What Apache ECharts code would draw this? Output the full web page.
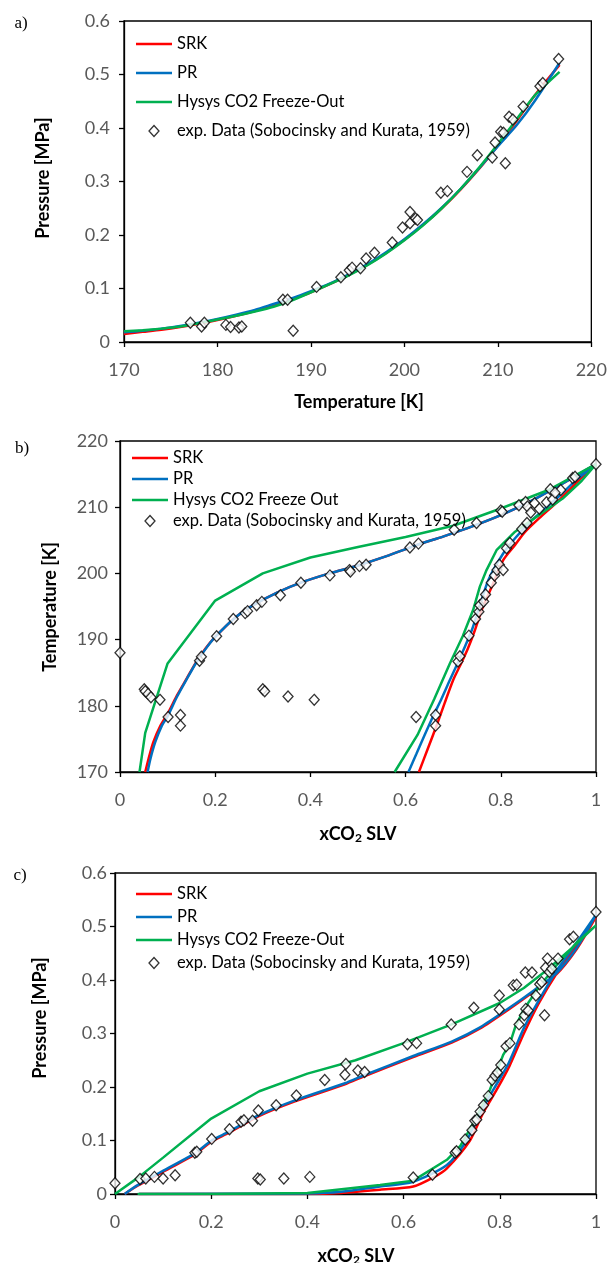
<!DOCTYPE html>
<html><head><meta charset="utf-8">
<script src="https://cdn.jsdelivr.net/npm/echarts@6/dist/echarts.min.js"></script>
<style>html,body{margin:0;padding:0;background:#fff}#c{width:610px;height:1263px}</style>
</head><body><div id="c"></div>
<script>
// ---------- Panel a: Pressure vs Temperature ----------
const aTemps = [170,172,174,176,178,180,182,184,186,188,190,192,194,196,198,200,202,204,206,208,210,212,214,216.6];
const aSRK  = [0.015,0.019,0.023,0.028,0.034,0.041,0.049,0.058,0.068,0.080,0.093,0.108,0.125,0.144,0.166,0.191,0.219,0.250,0.285,0.324,0.367,0.413,0.462,0.518];
const aPR   = [0.018,0.021,0.025,0.030,0.036,0.043,0.051,0.060,0.071,0.082,0.095,0.109,0.126,0.145,0.167,0.192,0.220,0.251,0.286,0.325,0.366,0.405,0.452,0.522];
const aHysys= [0.020,0.022,0.025,0.029,0.035,0.042,0.049,0.057,0.066,0.078,0.093,0.108,0.124,0.143,0.165,0.190,0.218,0.250,0.286,0.326,0.370,0.416,0.462,0.505];
const aExpT = [177.1,178.3,178.6,180.9,181.4,182.3,182.6,187.0,187.5,188.1,190.6,193.2,194.1,194.4,195.3,195.9,196.8,198.7,199.8,200.6,200.6,201.2,201.4,203.9,204.6,206.7,207.8,209.4,209.7,210.3,210.6,210.8,211.2,211.6,212.7,214.5,214.8,216.5];
const aExpP = [0.036,0.029,0.036,0.032,0.028,0.027,0.029,0.079,0.079,0.021,0.103,0.121,0.134,0.139,0.138,0.156,0.167,0.186,0.214,0.222,0.243,0.231,0.228,0.279,0.282,0.318,0.349,0.345,0.373,0.393,0.391,0.334,0.421,0.416,0.440,0.478,0.484,0.529];

// ---------- Panel b: Temperature vs xCO2 (pairs [x, T]) ----------
const bSRK = [[0.053,170],[0.060,172],[0.070,174.5],[0.085,177],[0.100,178.8],[0.120,181.6],[0.140,184.1],[0.160,186.6],[0.180,188.7],[0.200,190.4],[0.240,193.2],[0.280,195.2],[0.330,197.1],[0.380,198.6],[0.440,200.0],[0.500,201.2],[0.560,202.6],[0.620,204.2],[0.680,205.6],[0.740,207.1],[0.800,208.8],[0.860,210.8],[0.920,213.2],[0.960,214.8],[1.000,216.5],
  [0.960,213.8],[0.920,210.9],[0.880,208.3],[0.850,206.2],[0.830,204.3],[0.805,202.0],[0.781,198.0],[0.760,194.5],[0.745,191.3],[0.730,188.5],[0.714,186.0],[0.700,183.9],[0.682,180.4],[0.664,176.8],[0.646,173.4],[0.628,170]];
const bPR = [[0.058,170],[0.064,172],[0.074,174.5],[0.088,177],[0.100,178.4],[0.120,181.4],[0.140,184.0],[0.160,186.5],[0.180,188.6],[0.200,190.4],[0.240,193.2],[0.280,195.2],[0.330,197.1],[0.380,198.6],[0.440,200.0],[0.500,201.2],[0.560,202.6],[0.620,204.2],[0.680,205.6],[0.740,207.1],[0.800,208.8],[0.860,210.8],[0.920,213.2],[0.960,214.8],[1.000,216.5],
  [0.960,214.2],[0.920,211.5],[0.880,209.0],[0.855,207.3],[0.830,205.3],[0.805,203.0],[0.774,199.0],[0.753,194.5],[0.740,191.6],[0.725,189.0],[0.711,186.7],[0.693,183.9],[0.675,181.0],[0.657,178.3],[0.640,175.6],[0.623,172.8],[0.606,170]];
const bHysys = [[0.041,170],[0.053,175.9],[0.100,186.4],[0.200,195.9],[0.300,200.0],[0.400,202.4],[0.500,204.0],[0.600,205.5],[0.700,207.2],[0.800,209.8],[0.900,212.6],[1.000,216.5],
  [0.970,214.0],[0.930,211.3],[0.880,208.8],[0.830,206.3],[0.791,203.5],[0.770,200.5],[0.756,198.0],[0.742,194.5],[0.720,190.5],[0.693,186.4],[0.660,181.0],[0.625,175.6],[0.577,170]];
const bExp = [[0,188.0],[0.051,182.5],[0.053,182.2],[0.059,181.8],[0.065,181.3],[0.084,180.9],[0.101,178.3],[0.127,178.6],[0.127,177.0],[0.167,186.8],[0.171,187.4],[0.203,190.5],[0.238,193.1],[0.263,194.0],[0.268,194.3],[0.287,195.2],[0.298,195.7],[0.337,196.7],[0.380,198.6],[0.441,199.7],[0.482,200.5],[0.484,200.3],[0.503,201.1],[0.517,201.3],[0.609,203.9],[0.627,204.5],[0.702,206.6],[0.749,207.6],[0.800,209.5],[0.803,209.3],[0.838,210.3],[0.852,210.8],[0.856,210.1],[0.871,210.6],[0.904,212.7],[0.926,212.6],[0.951,214.4],[0.956,214.6],[1.0,216.5],
  [0.300,182.5],[0.304,182.2],[0.353,181.4],[0.408,180.9],[0.622,178.3],[0.663,178.6],[0.663,177.0],
  [0.710,186.7],[0.714,187.5],[0.733,190.6],[0.747,193.1],[0.754,194.2],[0.756,195.2],[0.764,195.75],[0.768,196.8],[0.780,198.6],[0.787,199.7],[0.792,200.5],[0.797,201.3],[0.805,200.5],[0.812,203.8],[0.819,204.6],[0.844,206.7],[0.855,207.6],[0.863,209.2],[0.881,209.75],[0.896,210.75],[0.909,211.15],[0.914,212.2]];

// ---------- Panel c: Pressure vs xCO2 (pairs [x, P]) ----------
const cPR = [[0.02,0],[0.048,0.017],[0.097,0.042],[0.166,0.076],[0.201,0.100],[0.236,0.116],[0.298,0.147],[0.374,0.175],[0.478,0.207],[0.518,0.222],[0.620,0.258],[0.700,0.285],[0.760,0.312],[0.820,0.348],[0.870,0.380],[0.917,0.412],[0.960,0.460],[1.0,0.522],
  [0.960,0.470],[0.920,0.420],[0.880,0.360],[0.850,0.310],[0.818,0.244],[0.786,0.194],[0.759,0.151],[0.731,0.100],[0.690,0.054],[0.620,0.023],[0.551,0.014],[0.470,0.004],[0.400,0.001],[0.050,0]];
const cSRK = [[0.02,0],[0.048,0.016],[0.097,0.040],[0.166,0.074],[0.201,0.098],[0.236,0.114],[0.298,0.145],[0.374,0.173],[0.478,0.205],[0.518,0.220],[0.620,0.256],[0.700,0.283],[0.760,0.310],[0.820,0.346],[0.870,0.378],[0.917,0.410],[0.960,0.458],[1.0,0.518],
  [0.960,0.465],[0.920,0.415],[0.880,0.355],[0.850,0.300],[0.820,0.239],[0.793,0.194],[0.765,0.151],[0.738,0.100],[0.690,0.048],[0.664,0.032],[0.620,0.014],[0.551,0.008],[0.470,0.002],[0.400,0],[0.050,0]];
const cHysys = [[0,0],[0.05,0.032],[0.10,0.068],[0.20,0.141],[0.30,0.192],[0.40,0.225],[0.50,0.250],[0.60,0.282],[0.70,0.317],[0.80,0.357],[0.85,0.385],[0.90,0.420],[0.95,0.460],[1.0,0.502],
  [0.960,0.470],[0.920,0.430],[0.880,0.385],[0.850,0.345],[0.832,0.312],[0.821,0.281],[0.807,0.260],[0.779,0.194],[0.746,0.134],[0.718,0.090],[0.690,0.064],[0.620,0.025],[0.551,0.017],[0.400,0.002],[0.200,0],[0.047,0]];
const cExp = [[0,0.020],[0.052,0.028],[0.064,0.029],[0.082,0.032],[0.100,0.029],[0.125,0.035],[0.166,0.077],[0.170,0.079],[0.201,0.103],[0.238,0.121],[0.262,0.135],[0.268,0.138],[0.286,0.137],[0.298,0.156],[0.335,0.166],[0.377,0.184],[0.436,0.213],[0.478,0.223],[0.480,0.243],[0.505,0.231],[0.519,0.228],[0.608,0.280],[0.627,0.282],
  [0.297,0.029],[0.302,0.027],[0.351,0.029],[0.405,0.032],[0.620,0.031],[0.660,0.036],
  [0.707,0.077],[0.710,0.080],[0.728,0.102],[0.742,0.119],[0.748,0.137],[0.752,0.139],[0.759,0.154],[0.766,0.166],[0.776,0.183],[0.784,0.213],[0.790,0.221],[0.795,0.227],[0.802,0.241],[0.813,0.276],[0.821,0.282],
  [0.699,0.317],[0.746,0.348],[0.799,0.345],[0.799,0.371],[0.828,0.390],[0.835,0.391],[0.853,0.414],[0.867,0.414],[0.893,0.334],[0.883,0.392],[0.887,0.396],[0.899,0.440],[0.921,0.440],[0.895,0.423],[0.903,0.415],[0.908,0.421],[0.945,0.476],[0.953,0.481],[1.0,0.527],
  [0.840,0.317],[0.851,0.334],[0.854,0.346],[0.859,0.343],[0.875,0.371]];

const N_SRK = 'SRK', N_PR = 'PR', N_HY = 'Hysys CO2 Freeze-Out', N_HYb = 'Hysys CO2 Freeze Out', N_EXP = 'exp. Data (Sobocinsky and Kurata, 1959)';

// ---------- chart ----------
const chart = echarts.init(document.getElementById('c'));
const zip = (a, b) => a.map((v, i) => [v, b[i]]);
const FONT = 'Lato';
const RED = '#FF0000', BLUE = '#0070C0', GREEN = '#00B050';
const LINE_ICON = 'path://M0,0 L36,0 L36,2.6 L0,2.6 Z';
const DIAMOND_ICON = 'path://M5,0 L10,5.5 L5,11 L0,5.5 Z';

function axis(gi, min, max, interval, margin) {
  return {
    type: 'value', gridIndex: gi, min, max, interval,
    axisLine: { show: true, onZero: false, lineStyle: { color: '#000', width: 1.3 } },
    axisTick: { show: true, inside: false, length: 5, lineStyle: { color: '#000', width: 1.3 } },
    splitLine: { show: false },
    axisLabel: { color: '#595959', fontFamily: FONT, fontSize: 18, margin: margin }
  };
}
function line(name, gi, data, color, smooth) {
  return { type: 'line', name, xAxisIndex: gi, yAxisIndex: gi, data, symbol: 'none', smooth: smooth,
    lineStyle: { color, width: 2.5 }, itemStyle: { color }, z: 2 };
}
function scatter(gi, data) {
  return { type: 'scatter', name: N_EXP, xAxisIndex: gi, yAxisIndex: gi, data, symbol: 'diamond', symbolSize: [10, 11],
    itemStyle: { color: '#fff', borderColor: '#000', borderWidth: 1.3 }, z: 3 };
}
function legend(left, top, gap, hyName) {
  return { orient: 'vertical', left, top, itemWidth: 36, itemHeight: 11, itemGap: gap, symbolKeepAspect: true,
    textStyle: { fontFamily: FONT, fontSize: 16.5, color: '#000', lineHeight: 18 },
    data: [
      { name: N_SRK, icon: LINE_ICON, itemStyle: { color: RED } },
      { name: N_PR, icon: LINE_ICON, itemStyle: { color: BLUE } },
      { name: hyName, icon: LINE_ICON, itemStyle: { color: GREEN } },
      { name: N_EXP, icon: DIAMOND_ICON, itemStyle: { color: '#fff', borderColor: '#000', borderWidth: 1.3 } }
    ] };
}
function txt(x, y, text, font, rot) {
  return { type: 'text', x, y, rotation: rot || 0,
    style: { text, font, fill: '#000', align: 'center', verticalAlign: 'middle' } };
}
function subTitle(x, y) {
  return { type: 'text', x, y,
    style: { text: '{m|xCO}{s|2}{m| SLV}', align: 'center', verticalAlign: 'middle',
      rich: { m: { font: 'bold 18px Lato', fill: '#000' },
              s: { font: 'bold 12px Lato', fill: '#000', padding: [9, 0, 0, 0] } } } };
}

chart.setOption({
  animation: false,
  backgroundColor: '#fff',
  grid: [
    { left: 124, top: 21, width: 470, height: 321, show: true, borderColor: '#000', borderWidth: 1.3 },
    { left: 120, top: 441, width: 476, height: 331, show: true, borderColor: '#000', borderWidth: 1.3 },
    { left: 115, top: 873, width: 481, height: 321, show: true, borderColor: '#000', borderWidth: 1.3 }
  ],
  xAxis: [axis(0, 170, 220, 10, 19), axis(1, 0, 1, 0.2, 19), axis(2, 0, 1, 0.2, 19)],
  yAxis: [axis(0, 0, 0.6, 0.1, 14), axis(1, 170, 220, 10, 12), axis(2, 0, 0.6, 0.1, 8)],
  legend: [legend(131, 30, 11, N_HY), legend(127, 444, 3, N_HYb), legend(131, 880, 5, N_HY)],
  series: [
    line(N_SRK, 0, zip(aTemps, aSRK), RED, 0.3),
    line(N_PR, 0, zip(aTemps, aPR), BLUE, 0.3),
    line(N_HY, 0, zip(aTemps, aHysys), GREEN, 0.2),
    scatter(0, zip(aExpT, aExpP)),
    line(N_SRK, 1, bSRK, RED, 0.25),
    line(N_PR, 1, bPR, BLUE, 0.25),
    line(N_HYb, 1, bHysys, GREEN, false),
    scatter(1, bExp),
    line(N_SRK, 2, cSRK, RED, 0.25),
    line(N_PR, 2, cPR, BLUE, 0.25),
    line(N_HY, 2, cHysys, GREEN, false),
    scatter(2, cExp)
  ],
  graphic: [
    txt(21, 24, 'a)', '17px "Liberation Serif"'),
    txt(22, 449, 'b)', '17px "Liberation Serif"'),
    txt(20, 876, 'c)', '17px "Liberation Serif"'),
    txt(43, 178, 'Pressure [MPa]', 'bold 18px Lato', Math.PI / 2),
    txt(359, 402, 'Temperature [K]', 'bold 18px Lato'),
    txt(50, 607, 'Temperature [K]', 'bold 18px Lato', Math.PI / 2),
    subTitle(358, 834),
    txt(40, 1018, 'Pressure [MPa]', 'bold 18px Lato', Math.PI / 2),
    subTitle(356, 1256)
  ]
});
</script></body></html>
